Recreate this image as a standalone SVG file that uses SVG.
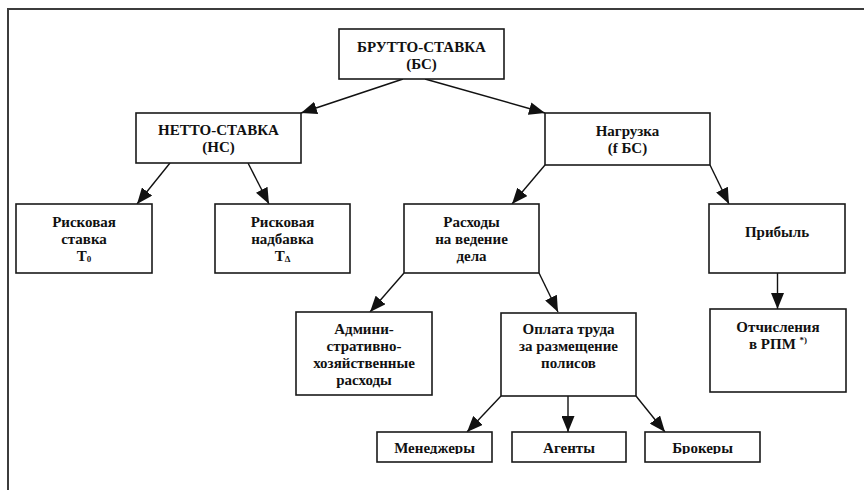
<svg xmlns="http://www.w3.org/2000/svg" width="864" height="490" viewBox="0 0 864 490">
  <style>
    .box { fill: #ffffff; stroke: #1a1a1a; stroke-width: 1.6; }
    .lbl { font-family: "Liberation Serif", "DejaVu Serif", serif; font-weight: 700; font-size: 15px; fill: #111111; text-anchor: middle; }
    .sub { font-size: 9px; }
    .edge { stroke: #111111; stroke-width: 1.4; fill: none; marker-end: url(#head); }
    .frame { stroke: #3c3c3c; stroke-width: 2; fill: none; }
  </style>
  <defs>
    <marker id="head" viewBox="0 0 16 13" refX="16" refY="6.5" markerWidth="16" markerHeight="13" markerUnits="userSpaceOnUse" orient="auto">
      <path d="M0,0 L16,6.5 L0,13 Z" fill="#111111"/>
    </marker>
    <!-- the bottom row of labels is cut just under the baseline -->
    <clipPath id="cut" clipPathUnits="userSpaceOnUse">
      <rect x="0" y="0" width="864" height="454"/>
    </clipPath>
  </defs>

  <rect width="864" height="490" fill="#ffffff"/>

  <!-- page frame: top and left rules -->
  <path class="frame" d="M8,490 L8,9 L864,9"/>

  <g id="connectors">
    <line class="edge" x1="403" y1="79" x2="301" y2="113"/>
    <line class="edge" x1="425" y1="79" x2="545" y2="113"/>
    <line class="edge" x1="170" y1="163" x2="137" y2="204"/>
    <line class="edge" x1="248" y1="163" x2="269" y2="204"/>
    <line class="edge" x1="545" y1="165" x2="512" y2="204"/>
    <line class="edge" x1="710" y1="165" x2="729" y2="204"/>
    <line class="edge" x1="777.5" y1="273" x2="777.5" y2="309"/>
    <line class="edge" x1="404" y1="273" x2="370" y2="312"/>
    <line class="edge" x1="539" y1="273" x2="558" y2="312"/>
    <line class="edge" x1="501" y1="396" x2="467" y2="432"/>
    <line class="edge" x1="568" y1="396" x2="568" y2="432"/>
    <line class="edge" x1="636" y1="396" x2="665" y2="432"/>
  </g>

  <g id="brutto">
    <rect class="box" x="339" y="29" width="165" height="50"/>
    <text class="lbl" x="421.5" y="52">БРУТТО-СТАВКА</text>
    <text class="lbl" x="421.5" y="69">(БС)</text>
  </g>

  <g id="netto">
    <rect class="box" x="136" y="113" width="165" height="50"/>
    <text class="lbl" x="218.5" y="135">НЕТТО-СТАВКА</text>
    <text class="lbl" x="218.5" y="152">(НС)</text>
  </g>

  <g id="nagruzka">
    <rect class="box" x="545" y="113" width="165" height="52"/>
    <text class="lbl" x="627.5" y="136">Нагрузка</text>
    <text class="lbl" x="627.5" y="153">(f БС)</text>
  </g>

  <g id="risk-rate">
    <rect class="box" x="16" y="204" width="136" height="69"/>
    <text class="lbl" x="84" y="227">Рисковая</text>
    <text class="lbl" x="84" y="244">ставка</text>
    <text class="lbl" x="84" y="261">T<tspan class="sub" dy="1">0</tspan></text>
  </g>

  <g id="risk-loading">
    <rect class="box" x="215" y="204" width="135" height="69"/>
    <text class="lbl" x="282.5" y="227">Рисковая</text>
    <text class="lbl" x="282.5" y="244">надбавка</text>
    <text class="lbl" x="282.5" y="261">T<tspan class="sub" dy="1">Δ</tspan></text>
  </g>

  <g id="expenses">
    <rect class="box" x="404" y="204" width="135" height="69"/>
    <text class="lbl" x="471.5" y="227">Расходы</text>
    <text class="lbl" x="471.5" y="244">на ведение</text>
    <text class="lbl" x="471.5" y="261">дела</text>
  </g>

  <g id="profit">
    <rect class="box" x="709" y="204" width="136" height="69"/>
    <text class="lbl" x="777" y="237">Прибыль</text>
  </g>

  <g id="admin">
    <rect class="box" x="296" y="312" width="136" height="83"/>
    <text class="lbl" x="364" y="334">Админи-</text>
    <text class="lbl" x="364" y="351">стративно-</text>
    <text class="lbl" x="364" y="368">хозяйственные</text>
    <text class="lbl" x="364" y="385">расходы</text>
  </g>

  <g id="commission">
    <rect class="box" x="501" y="313" width="135" height="83"/>
    <text class="lbl" x="568.5" y="334">Оплата труда</text>
    <text class="lbl" x="568.5" y="351">за размещение</text>
    <text class="lbl" x="568.5" y="368">полисов</text>
  </g>

  <g id="reserve">
    <rect class="box" x="710" y="309" width="136" height="83"/>
    <text class="lbl" x="778" y="332">Отчисления</text>
    <text class="lbl" x="778" y="349">в РПМ <tspan class="sub" dy="-6">*)</tspan></text>
  </g>

  <g id="managers">
    <rect class="box" x="377" y="432" width="115" height="30"/>
    <text class="lbl" x="434.5" y="453" clip-path="url(#cut)">Менеджеры</text>
  </g>

  <g id="agents">
    <rect class="box" x="512" y="432" width="114" height="30"/>
    <text class="lbl" x="569" y="453" clip-path="url(#cut)">Агенты</text>
  </g>

  <g id="brokers">
    <rect class="box" x="645" y="432" width="115" height="30"/>
    <text class="lbl" x="702.5" y="453" clip-path="url(#cut)">Брокеры</text>
  </g>
</svg>
